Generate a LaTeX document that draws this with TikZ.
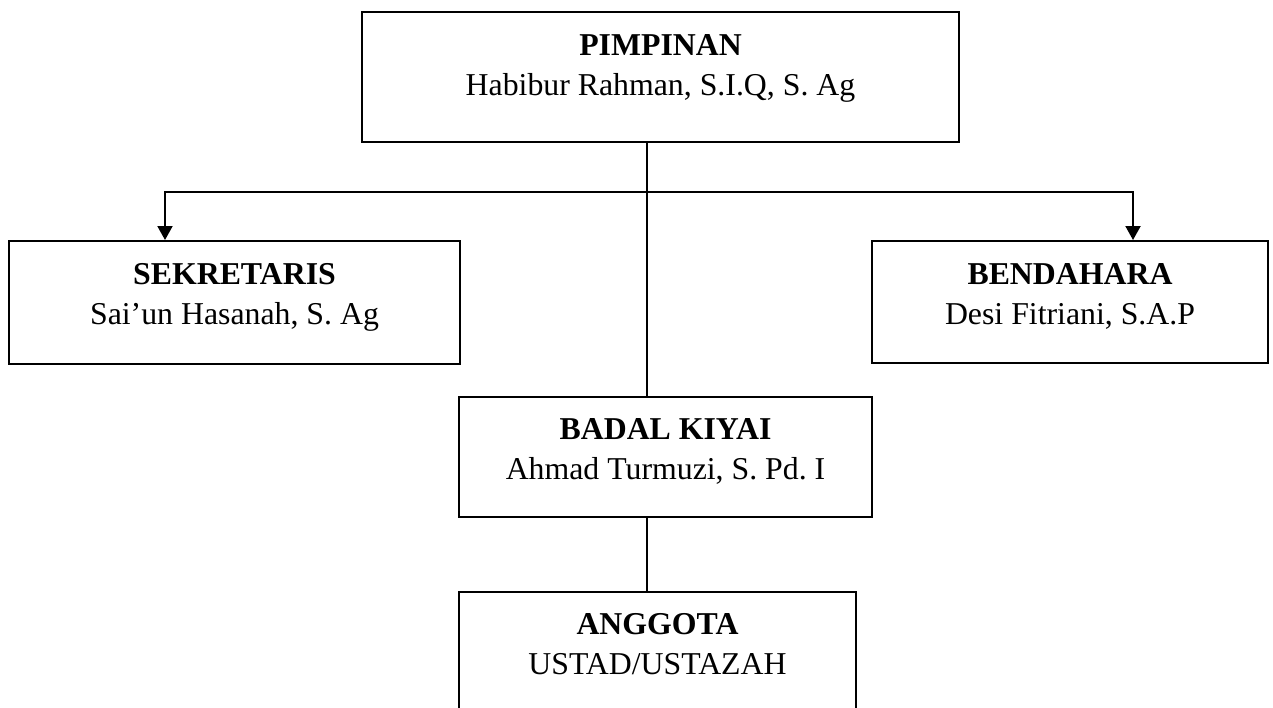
\documentclass[tikz,border=0pt]{standalone}
\usepackage{fontspec}
\setmainfont{Liberation Serif}
\usetikzlibrary{positioning,arrows.meta}
\begin{document}
\begin{tikzpicture}[x=1pt,y=-1pt,
  box/.style={draw,line width=2pt,inner sep=0pt},
  txt/.style={align=center,inner sep=0pt,font=\fontsize{31.8}{40}\selectfont\frenchspacing},
  arr/.style={-{Triangle[length=14pt,width=15pt]}}]
\clip (0,0) rectangle (1273,707);
%%%% boxes
\node[box,minimum width=597pt,minimum height=130pt] (pimpinan) at (660.5,77) {};
\node[box,minimum width=451pt,minimum height=123pt] (sekretaris) at (234.5,302.5) {};
\node[box,minimum width=396pt,minimum height=122pt] (bendahara) at (1070,302) {};
\node[box,minimum width=413pt,minimum height=120pt] (badal) at (665.5,457) {};
\node[box,minimum width=397pt,minimum height=140pt] (anggota) at (657.5,662) {};
%%%% texts
\node[txt,below=23pt of pimpinan.north] (pimpinan-txt) {\textbf{PIMPINAN}\\Habibur Rahman, S.I.Q, S. Ag};
\node[txt,below=23pt of sekretaris.north] (sekretaris-txt) {\textbf{SEKRETARIS}\\Sai’un Hasanah, S. Ag};
\node[txt,below=23pt of bendahara.north] (bendahara-txt) {\textbf{BENDAHARA}\\Desi Fitriani, S.A.P};
\node[txt,below=22pt of badal.north] (badal-txt) {\textbf{BADAL KIYAI}\\Ahmad Turmuzi, S. Pd. I};
\node[txt,below=22pt of anggota.north] (anggota-txt) {\textbf{ANGGOTA}\\USTAD/USTAZAH};
%%%% connectors
\coordinate (split) at (647,192);
\draw[line width=2.5pt] (pimpinan.south -| split) -- (badal.north -| split);
\draw[line width=2.5pt] (badal.south -| split) -- (anggota.north -| split);
\draw[line width=2pt,arr] (split) -| ([xshift=157pt]sekretaris.north west);
\draw[line width=2pt,arr] (split) -| ([xshift=-136pt]bendahara.north east);
\end{tikzpicture}
\end{document}
